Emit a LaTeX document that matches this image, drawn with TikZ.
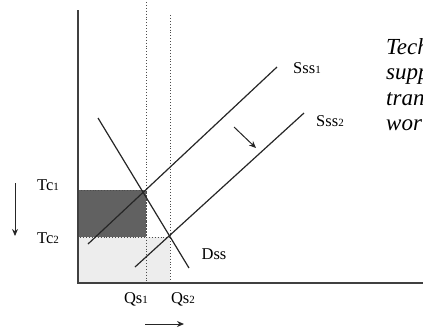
\documentclass[tikz,border=0pt]{standalone}
\usepackage{fontspec}
\setmainfont{Liberation Serif}[ItalicFont={Liberation Serif Italic}]
\usetikzlibrary{arrows.meta}
\begin{document}
\begin{tikzpicture}[x=1pt,y=-1pt,
  curve/.style={line width=1.2pt, draw=black!85},
  axis/.style={line width=1.4pt, draw=black!75},
  guide/.style={dotted, line width=0.9pt, draw=black!70},
  lbl/.style={font=\fontsize{16.5}{18}\selectfont, inner sep=0pt},
  note/.style={font=\fontsize{23}{26}\selectfont\itshape, anchor=base west, inner sep=0pt},
  shiftarrow/.style={-{Stealth[length=7pt,width=6pt]}, line width=1pt, draw=black!85}
]
\newcommand\subdig[1]{{\fontsize{11}{12}\selectfont #1}}
\useasboundingbox (0,0) rectangle (423,333);
\clip (0,0) rectangle (423,333);
% coordinates
\coordinate (O) at (78,283);
\coordinate (ytop) at (78,10);
\coordinate (xend) at (423,283);
\coordinate (d1) at (98,118);
\coordinate (d2) at (189,268);
\coordinate (s1a) at (88,244);
\coordinate (s1b) at (277,67);
\coordinate (s2a) at (135,267);
\coordinate (s2b) at (304,113);
% shaded areas
\fill[black!7] (78,237) rectangle (170,283);
\fill[black!62] (78,190) rectangle (146,237);
\draw[guide] (78,190) rectangle (146,237);
\draw[guide] (146,237) -- (170,237);
\draw[guide] (146,2) -- (146,283);
\draw[guide] (170,15) -- (170,283);
% axes
\draw[axis] (ytop) -- (O) -- (xend);
% curves
\draw[curve] (d1) -- (d2);
\draw[curve] (s1a) -- (s1b);
\draw[curve] (s2a) -- (s2b);
% labels
\node[lbl] (lS1) at (307,68) {Sss\subdig{1}};
\node[lbl] (lS2) at (330,121) {Sss\subdig{2}};
\node[lbl] (lD) at (214,254) {Dss};
\node[lbl] (lT1) at (48,185) {Tc\subdig{1}};
\node[lbl] (lT2) at (48,238) {Tc\subdig{2}};
\node[lbl] (lQ1) at (136,299) {Qs\subdig{1}};
\node[lbl] (lQ2) at (183,299) {Qs\subdig{2}};
% arrows
\coordinate (a1) at (234,127);
\coordinate (a2) at (256,148);
\draw[shiftarrow] (a1) -- (a2);
\coordinate (b1) at (15,183);
\coordinate (b2) at (15,236);
\draw[shiftarrow] (b1) -- (b2);
\coordinate (c1) at (145,324);
\coordinate (c2) at (184,324);
\draw[shiftarrow] (c1) -- (c2);
% side note (cut off at the right edge)
\node[note] (n1) at (386,54) {Tech};
\node[note] (n2) at (386,79.5) {supp};
\node[note] (n3) at (386,105) {tran};
\node[note] (n4) at (386,130.5) {wor};
\end{tikzpicture}
\end{document}
